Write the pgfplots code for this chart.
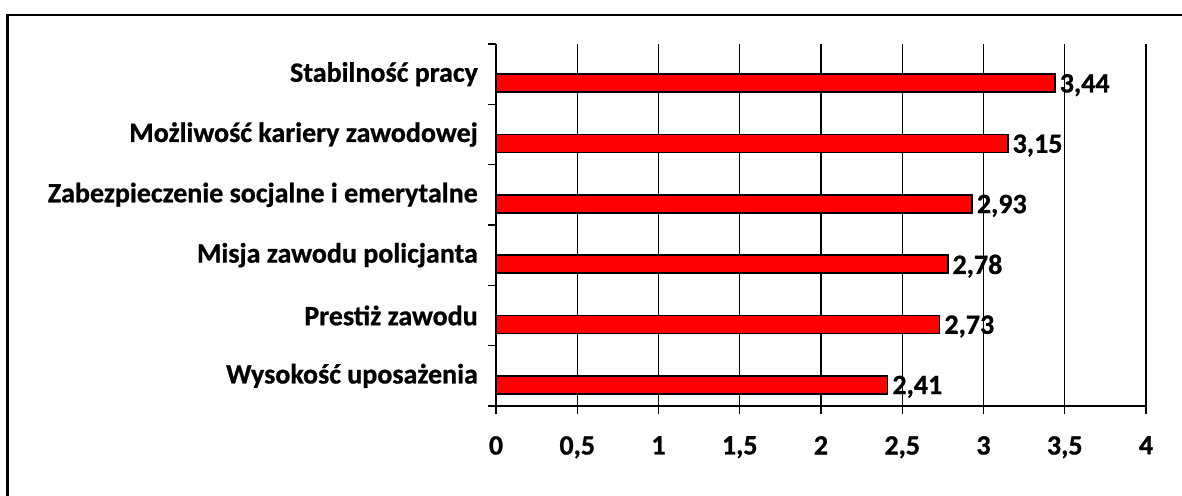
\documentclass[border=0pt]{standalone}
\usepackage{fontspec}
\setmainfont{Carlito}[BoldFeatures={FakeBold=0.8}]
\usepackage{pgfplots}
\pgfplotsset{compat=1.18}
\begin{document}
\begin{tikzpicture}
\path[use as bounding box] (0,0) rectangle (1182bp,-496bp);
\draw[line width=2.5bp] (7.5bp,-497bp) -- (7.5bp,-15bp) -- (1183bp,-15bp);
\begin{axis}[
  at={(496bp,-406bp)}, anchor=south west,
  scale only axis, width=650bp, height=362bp,
  xbar, bar width=18bp, bar shift=-9bp,
  xmin=0, xmax=4, ymin=-0.5, ymax=5.5,
  axis x line*=bottom, axis y line*=left,
  axis line style={line width=1.4bp, -},
  xtick={0,0.5,...,4},
  xmajorgrids, grid style={black, line width=1.4bp},
  ytick={0,1,2,3,4,5},
  yticklabels={Wysokość uposażenia, Prestiż zawodu, Misja zawodu policjanta, Zabezpieczenie socjalne i emerytalne, Możliwość kariery zawodowej, Stabilność pracy},
  minor ytick={-0.5,0.5,...,5.5},
  major y tick style={draw=none},
  tick align=outside, major tick length=8bp, minor tick length=8bp,
  tick style={black, line width=1.4bp},
  ticklabel style={font=\bfseries\fontsize{28bp}{32bp}\selectfont},
  xticklabel style={/pgf/number format/use comma, /pgf/number format/assume math mode=true, inner sep=0pt, yshift=-22bp},
  yticklabel style={inner sep=0pt, xshift=-10bp},
  point meta=x,
  nodes near coords={\pgfmathprintnumber[fixed,fixed zerofill,precision=2,use comma,assume math mode=true]{\pgfplotspointmeta}},
  nodes near coords style={font=\bfseries\fontsize{28bp}{32bp}\selectfont, anchor=west, inner sep=0pt, xshift=4bp, yshift=-2bp, black},
  clip=false,
]
\addplot[fill=red, draw=black, line width=1.6bp] table[x=v, y=i] {
i v
0 2.41
1 2.73
2 2.78
3 2.93
4 3.15
5 3.44
};
\end{axis}
\end{tikzpicture}
\end{document}
